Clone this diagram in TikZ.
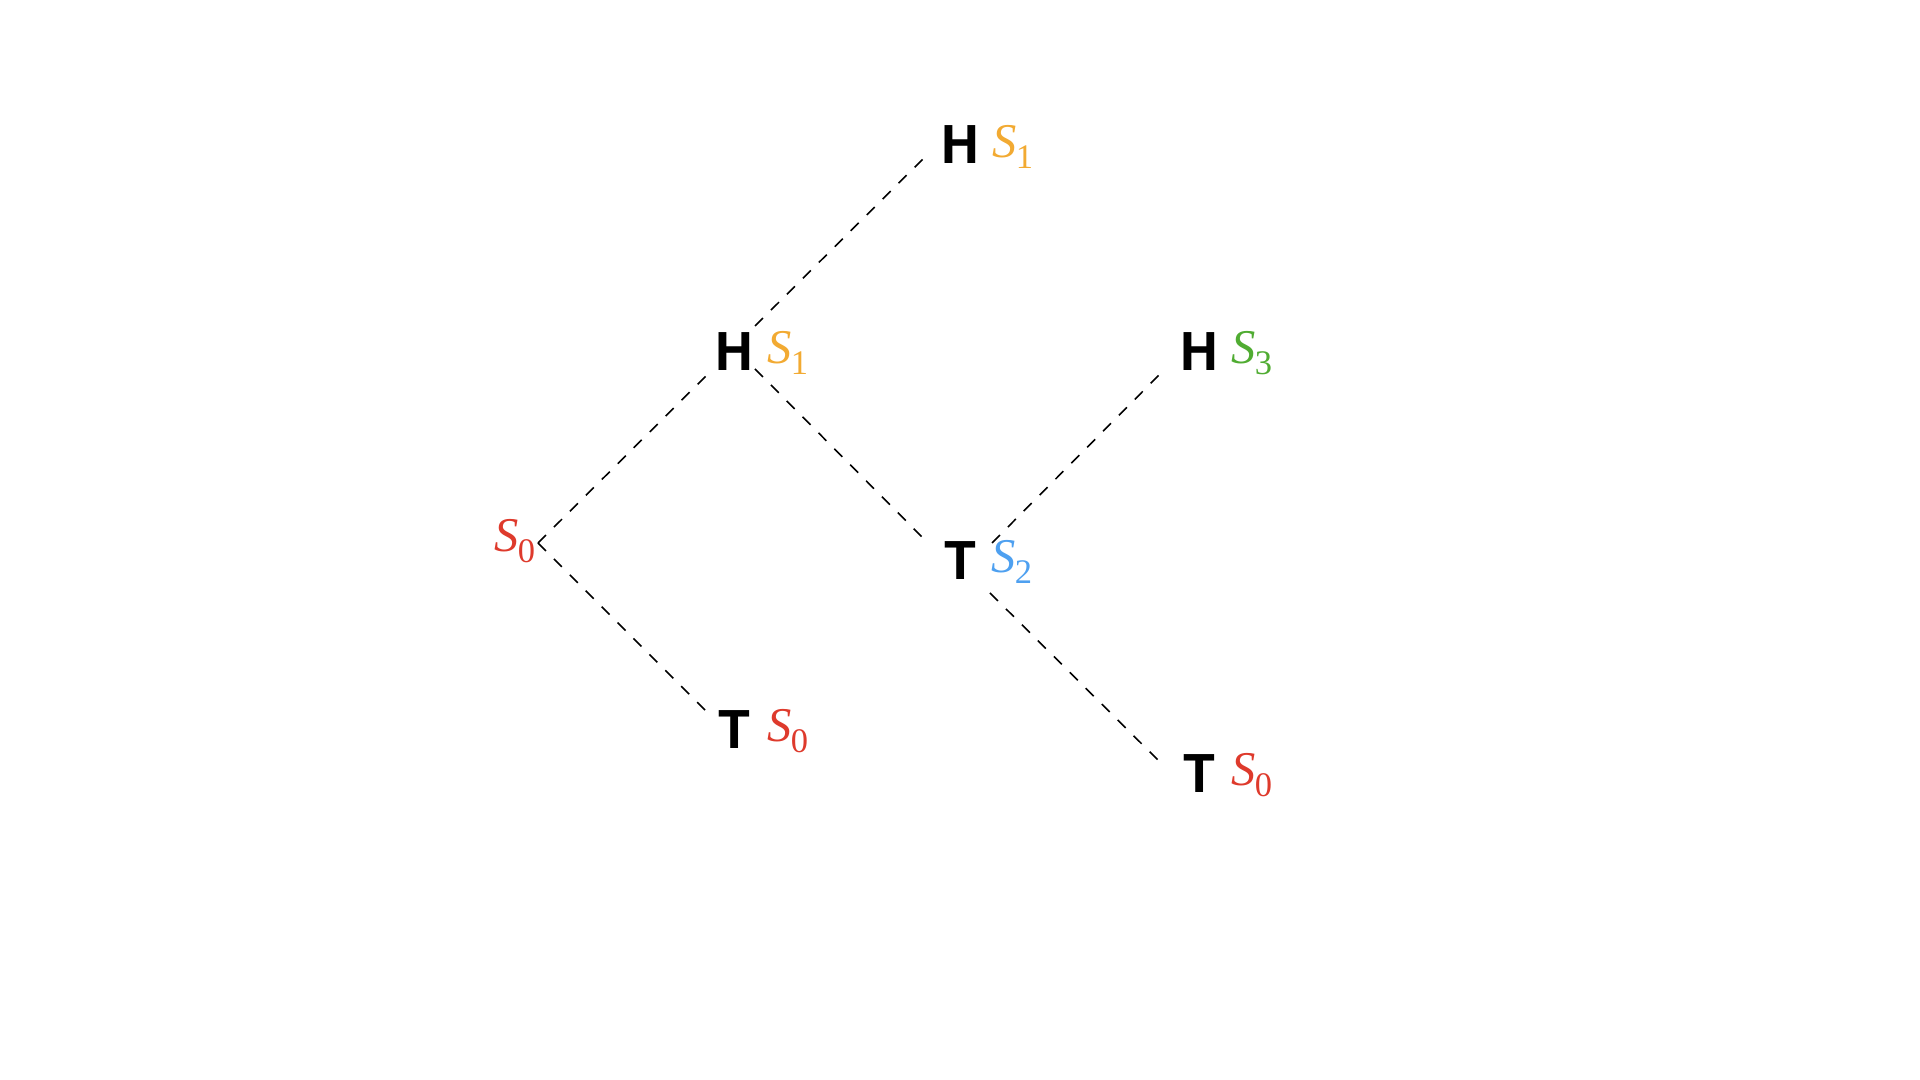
\documentclass[tikz,border=0pt]{standalone}
\usepackage{fontspec}
\setmainfont{Liberation Serif}
\newfontfamily\coinfont{TeX Gyre Heros}
\usetikzlibrary{calc}
\definecolor{sred}{RGB}{222,58,44}
\definecolor{sorange}{RGB}{242,170,50}
\definecolor{sblue}{RGB}{78,160,240}
\definecolor{sgreen}{RGB}{80,172,50}
\newcommand\stlab[1]{\textit{S}\kern-0.3pt\raisebox{-2.9pt}{\fontsize{9.8}{10}\selectfont #1}}
\begin{document}
\begin{tikzpicture}[x=0.01cm,y=-0.01cm,
  coin/.style={inner sep=0pt, anchor=center, font=\coinfont\bfseries\fontsize{14.8}{16}\selectfont},
  lab/.style={inner sep=0pt, anchor=base west, font=\fontsize{13.8}{16}\selectfont},
  edge/.style={draw=black, line width=0.45pt, dash pattern=on 3.2pt off 3.2pt}]
\useasboundingbox (0,0) rectangle (1920,1080);
% coins
\node[coin] (htop) at (960,145) {H};
\node[coin] (hmid) at (734,352) {H};
\node[coin] (hthree) at (1199,352) {H};
\node[coin] (tmid) at (960,561) {T};
\node[coin] (tlow) at (734,730) {T};
\node[coin] (tright) at (1199,774) {T};
% state labels
\node[lab, text=sred] (root) at (494,552) {\stlab{0}};
\node[lab, text=sorange] (ltop) at (992,158) {\stlab{1}};
\node[lab, text=sorange] (lmid) at (767,364) {\stlab{1}};
\node[lab, text=sgreen] (lthree) at (1231,364) {\stlab{3}};
\node[lab, text=sblue] (ltmid) at (991,573) {\stlab{2}};
\node[lab, text=sred] (ltlow) at (767,742) {\stlab{0}};
\node[lab, text=sred] (ltright) at (1231,786) {\stlab{0}};
\coordinate (rv) at (538,543);
% connectors
\draw[edge] (rv) -- ($(hmid)+(-21,17)$);
\draw[edge] (rv) -- ($(tlow)+(-21,-12)$);
\draw[edge] ($(hmid)+(21,-26)$) -- ($(htop)+(-31,8)$);
\draw[edge] ($(hmid)+(21,17)$) -- ($(tmid)+(-32,-18)$);
\draw[edge] ($(tmid)+(32,-18)$) -- ($(hthree)+(-34,17)$);
\draw[edge] ($(tmid)+(30,32)$) -- ($(tright)+(-34,-7)$);
\end{tikzpicture}
\end{document}
